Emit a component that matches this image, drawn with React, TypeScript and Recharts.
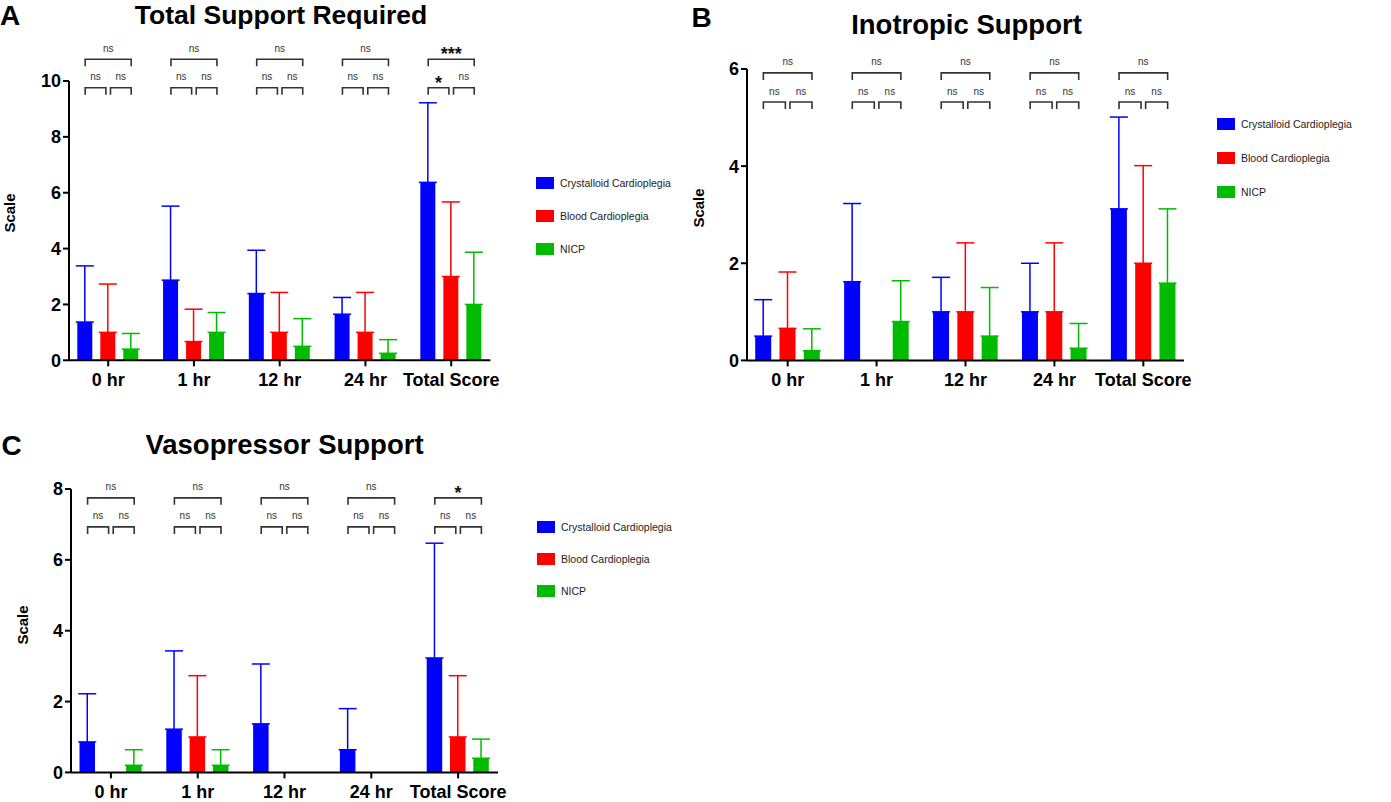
import React from "react";
import { BarChart, Bar, XAxis, YAxis, ErrorBar, ReferenceDot, Legend } from "recharts";

const FONT = "'Liberation Sans', Arial, Helvetica, sans-serif";

const categories = ["0 hr", "1 hr", "12 hr", "24 hr", "Total Score"];
const seriesNames = ["Crystalloid Cardioplegia", "Blood Cardioplegia", "NICP"];
const seriesColors = ["#0000ff", "#ff0000", "#00bb00"];

// A: Total Support Required (mean, SD)
const totalCrystalloid = [1.37, 2.87, 2.39, 1.65, 6.37];
const totalCrystalloidSd = [2.01, 2.65, 1.55, 0.6, 2.85];
const totalBlood = [1.0, 0.67, 1.0, 1.0, 3.0];
const totalBloodSd = [1.73, 1.16, 1.43, 1.43, 2.67];
const totalNicp = [0.4, 1.0, 0.5, 0.25, 2.0];
const totalNicpSd = [0.56, 0.71, 0.99, 0.49, 1.87];
const totalTicks = [0, 2, 4, 6, 8, 10];
// per category: [crystalloid vs NICP, crystalloid vs blood, blood vs NICP]
const totalSig = [
  ["ns", "ns", "ns"],
  ["ns", "ns", "ns"],
  ["ns", "ns", "ns"],
  ["ns", "ns", "ns"],
  ["***", "*", "ns"],
];
const totalSigLevels = [10.78, 9.76];

// B: Inotropic Support
const inoCrystalloid = [0.5, 1.62, 1.0, 1.0, 3.12];
const inoCrystalloidSd = [0.75, 1.61, 0.71, 1.0, 1.89];
const inoBlood = [0.66, 0, 1.0, 1.0, 2.0];
const inoBloodSd = [1.16, 0, 1.42, 1.42, 2.01];
const inoNicp = [0.2, 0.8, 0.5, 0.25, 1.59];
const inoNicpSd = [0.45, 0.84, 1.0, 0.51, 1.53];
const inoTicks = [0, 2, 4, 6];
const inoSig = [
  ["ns", "ns", "ns"],
  ["ns", "ns", "ns"],
  ["ns", "ns", "ns"],
  ["ns", "ns", "ns"],
  ["ns", "ns", "ns"],
];
const inoSigLevels = [5.92, 5.32];

// C: Vasopressor Support
const vasoCrystalloid = [0.86, 1.22, 1.37, 0.64, 3.23];
const vasoCrystalloidSd = [1.36, 2.21, 1.69, 1.16, 3.24];
const vasoBlood = [0, 1.0, 0, 0, 1.0];
const vasoBloodSd = [0, 1.73, 0, 0, 1.73];
const vasoNicp = [0.2, 0.2, 0, 0, 0.4];
const vasoNicpSd = [0.44, 0.44, 0, 0, 0.54];
const vasoTicks = [0, 2, 4, 6, 8];
const vasoSig = [
  ["ns", "ns", "ns"],
  ["ns", "ns", "ns"],
  ["ns", "ns", "ns"],
  ["ns", "ns", "ns"],
  ["*", "ns", "ns"],
];
const vasoSigLevels = [7.75, 6.93];

const err = (sd: number) => (sd > 0 ? [0, sd] : null);

function buildRows(means: number[][], sds: number[][]) {
  return categories.map((name, i) => {
    const row: any = { name };
    means.forEach((m, s) => {
      row["s" + s] = m[i];
      row["e" + s] = err(sds[s][i]);
    });
    return row;
  });
}

const panels = [
  {
    key: "A",
    title: "Total Support Required",
    titleX: 281, titleY: 24, titleSize: 26.5,
    letterX: 0, letterY: 26,
    scaleX: 8.5, scaleY: 213,
    left: 69.3, top: 80.7, width: 421.4, height: 279.3, pad: -3.7,
    barSize: 15, barGap: 8,
    ticks: totalTicks, sig: totalSig, sigLevels: totalSigLevels,
    rows: buildRows([totalCrystalloid, totalBlood, totalNicp], [totalCrystalloidSd, totalBloodSd, totalNicpSd]),
    legendX: 536, legendY: 183, legendStep: 33.2,
  },
  {
    key: "B",
    title: "Inotropic Support",
    titleX: 966.5, titleY: 34.7, titleSize: 27.5,
    letterX: 691.5, letterY: 27.3,
    scaleX: 698, scaleY: 207.5,
    left: 747.3, top: 69.3, width: 437, height: 291.4, pad: -3.8,
    barSize: 16, barGap: 8.3,
    ticks: inoTicks, sig: inoSig, sigLevels: inoSigLevels,
    rows: buildRows([inoCrystalloid, inoBlood, inoNicp], [inoCrystalloidSd, inoBloodSd, inoNicpSd]),
    legendX: 1217, legendY: 124, legendStep: 34,
  },
  {
    key: "C",
    title: "Vasopressor Support",
    titleX: 284.5, titleY: 454.7, titleSize: 27.5,
    letterX: 1.5, letterY: 455.3,
    scaleX: 22, scaleY: 624.7,
    left: 70.7, top: 489.3, width: 427, height: 283.4, pad: -3.5,
    barSize: 15.5, barGap: 7.8,
    ticks: vasoTicks, sig: vasoSig, sigLevels: vasoSigLevels,
    rows: buildRows([vasoCrystalloid, vasoBlood, vasoNicp], [vasoCrystalloidSd, vasoBloodSd, vasoNicpSd]),
    legendX: 537, legendY: 527, legendStep: 32,
  },
];

// text placed by its baseline (Liberation Sans metrics)
function Txt({ x, y, size, bold, center, children }: any) {
  return (
    <div
      style={{
        position: "absolute",
        left: x,
        top: y - 0.8465 * size,
        fontSize: size,
        lineHeight: size + "px",
        fontWeight: bold ? 700 : 400,
        fontFamily: FONT,
        whiteSpace: "nowrap",
        color: "#000",
        transform: center ? "translateX(-50%)" : undefined,
      }}
    >
      {children}
    </div>
  );
}

function Bracket({ x1, x2, y, label }: any) {
  const star = label.includes("*");
  return (
    <g>
      <path d={`M${x1},${y + 7}V${y}H${x2}V${y + 7}`} fill="none" stroke="#333" strokeWidth={1.6} />
      <text
        x={(x1 + x2) / 2}
        y={star ? y + 1 : y - 7.5}
        textAnchor="middle"
        fontSize={star ? 18 : 10}
        fontWeight={star ? 700 : 400}
        fill={star ? "#111" : "#333"}
        fontFamily={FONT}
      >
        {label}
      </text>
    </g>
  );
}

function Panel({ p }: any) {
  const yAxisW = 50;
  const mTop = 60;
  const mRight = 20;
  const xAxisH = 40;
  const svgLeft = p.left - yAxisW;
  const svgTop = p.top - mTop;
  const pitch = p.barSize + p.barGap;

  const renderLegend = (props: any) => {
    const items = [...(props.payload || [])].sort(
      (a: any, b: any) => seriesNames.indexOf(a.value) - seriesNames.indexOf(b.value)
    );
    return (
      <div>
        {items.map((e: any) => (
          <div key={e.value} style={{ display: "flex", alignItems: "center", height: p.legendStep }}>
            <div style={{ width: 18, height: 12, background: e.color }} />
            <span style={{ marginLeft: 6, fontSize: 10.5, color: "#222", fontFamily: FONT, whiteSpace: "nowrap" }}>
              {e.value}
            </span>
          </div>
        ))}
      </div>
    );
  };

  return (
    <>
      <Txt x={p.letterX} y={p.letterY} size={28} bold>
        {p.key}
      </Txt>
      <Txt x={p.titleX} y={p.titleY} size={p.titleSize} bold center>
        {p.title}
      </Txt>
      <div
        style={{
          position: "absolute",
          left: p.scaleX,
          top: p.scaleY,
          transform: "translate(-50%, -50%) rotate(-90deg)",
          fontSize: 15,
          lineHeight: "15px",
          fontWeight: 700,
          fontFamily: FONT,
          whiteSpace: "nowrap",
        }}
      >
        Scale
      </div>
      <div style={{ position: "absolute", left: svgLeft, top: svgTop }}>
        <BarChart
          width={yAxisW + p.width + mRight}
          height={mTop + p.height + xAxisH}
          data={p.rows}
          margin={{ top: mTop, right: mRight, bottom: 0, left: 0 }}
          barSize={p.barSize}
          barGap={p.barGap}
        >
          <XAxis
            dataKey="name"
            interval={0}
            padding={{ left: p.pad, right: p.pad }}
            height={xAxisH}
            tickSize={6}
            tickMargin={7}
            axisLine={{ stroke: "#000", strokeWidth: 2 }}
            tickLine={{ stroke: "#000", strokeWidth: 2 }}
            tick={{ fill: "#000", fontSize: 18, fontWeight: 700, fontFamily: FONT }}
          />
          <YAxis
            width={yAxisW}
            domain={[0, p.ticks[p.ticks.length - 1]]}
            ticks={p.ticks}
            interval={0}
            tickSize={6}
            tickMargin={2}
            axisLine={{ stroke: "#000", strokeWidth: 2 }}
            tickLine={{ stroke: "#000", strokeWidth: 2 }}
            tick={{ fill: "#000", fontSize: 18, fontWeight: 700, fontFamily: FONT }}
          />
          {seriesNames.map((name, s) => (
            <Bar key={name} dataKey={"s" + s} name={name} fill={seriesColors[s]} isAnimationActive={false}>
              <ErrorBar
                dataKey={"e" + s}
                direction="y"
                width={9}
                strokeWidth={1.5}
                stroke={seriesColors[s]}
                isAnimationActive={false}
              />
            </Bar>
          ))}
          {categories.map((c, i) => (
            <ReferenceDot
              key={"u" + c}
              x={c}
              y={p.sigLevels[0]}
              ifOverflow="visible"
              shape={(d: any) => <Bracket x1={d.cx - pitch} x2={d.cx + pitch} y={d.cy} label={p.sig[i][0]} />}
            />
          ))}
          {categories.map((c, i) => (
            <ReferenceDot
              key={"l" + c}
              x={c}
              y={p.sigLevels[1]}
              ifOverflow="visible"
              shape={(d: any) => (
                <g>
                  <Bracket x1={d.cx - pitch} x2={d.cx - 2.3} y={d.cy} label={p.sig[i][1]} />
                  <Bracket x1={d.cx + 2.3} x2={d.cx + pitch} y={d.cy} label={p.sig[i][2]} />
                </g>
              )}
            />
          ))}
          <Legend
            layout="vertical"
            align="center"
            verticalAlign="middle"
            content={renderLegend}
            wrapperStyle={{
              left: p.legendX - svgLeft,
              top: p.legendY - p.legendStep / 2 - svgTop,
              width: 200,
            }}
          />
        </BarChart>
      </div>
    </>
  );
}

export default function App() {
  return (
    <div style={{ position: "absolute", left: 0, top: 0, width: 1391, height: 802, background: "#fff" }}>
      {panels.map((p) => (
        <Panel key={p.key} p={p} />
      ))}
    </div>
  );
}
